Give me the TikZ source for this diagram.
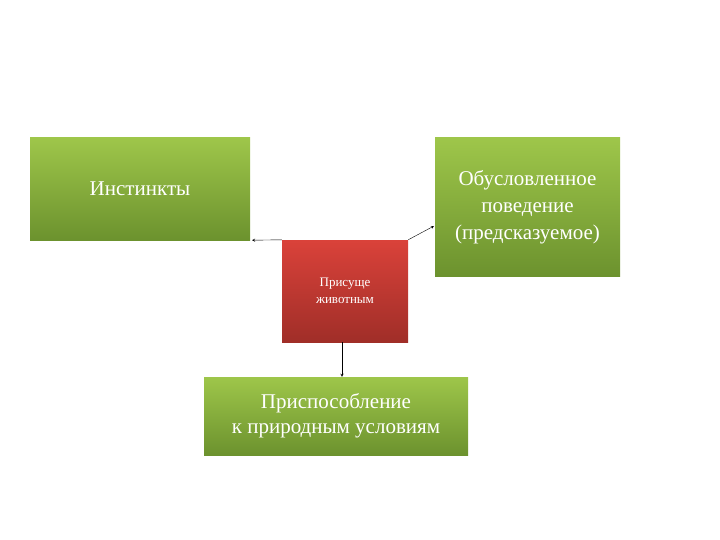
\documentclass[tikz,border=0pt]{standalone}
\usepackage{fontspec}
\setmainfont{Liberation Serif}
\begin{document}
\begin{tikzpicture}[x=1pt,y=-1pt,
  gbox/.style={draw=none,top color=green!40!olive!60!lime!80!black,bottom color=green!30!olive!90!black,text=white,align=center,inner sep=0pt},
  green/.style={gbox,top color={rgb,255:red,158;green,198;blue,74},bottom color={rgb,255:red,108;green,146;blue,46}},
  redb/.style={draw=none,top color={rgb,255:red,218;green,66;blue,58},bottom color={rgb,255:red,160;green,46;blue,40},text=white,align=center,inner sep=0pt},
  arr/.style={-stealth,thin,black}]
\useasboundingbox (0,0) rectangle (720,540);
\node[green,minimum width=220pt,minimum height=102pt,font=\fontsize{21}{24}\selectfont] (inst) at (140,189) {Инстинкты};
\node[green,minimum width=185pt,minimum height=138pt,font=\fontsize{21}{27}\selectfont] (obus) at (527.5,207) {Обусловленное\\поведение\\(предсказуемое)};
\node[redb,minimum width=126pt,minimum height=102pt,font=\fontsize{13}{17}\selectfont] (pris) at (345,291) {Присуще\\животным};
\node[green,minimum width=264pt,minimum height=78pt,font=\fontsize{21}{25}\selectfont] (adapt) at (336,416) {Приспособление\\к природным условиям};
\draw[arr] (pris.north west) -- (inst.south east -| 252,222);
\draw[arr] (pris.north east) -- (434,226);
\draw[arr] (pris.south -| 342,342) -- (adapt.north -| 342,377);
\end{tikzpicture}
\end{document}
